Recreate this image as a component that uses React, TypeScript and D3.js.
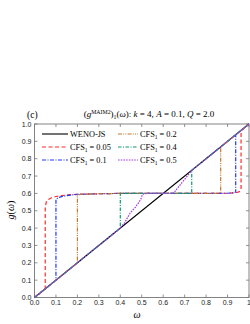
import React from "react";
import * as d3 from "d3";

type Pt = [number, number];

const xTicks = [0, 0.1, 0.2, 0.3, 0.4, 0.5, 0.6, 0.7, 0.8, 0.9, 1.0];
const xTickLabels = ["0.0", "0.1", "0.2", "0.3", "0.4", "0.5", "0.6", "0.7", "0.8", "0.9", "1"];
const yTicks = [0, 0.1, 0.2, 0.3, 0.4, 0.5, 0.6, 0.7, 0.8, 0.9, 1.0];
const yTickLabels = ["0.0", "0.1", "0.2", "0.3", "0.4", "0.5", "0.6", "0.7", "0.8", "0.9", "1.0"];

const wenoJS: Pt[] = [[0, 0], [1, 1]];
const cfs005: Pt[] = [
  [0, 0], [0.05, 0.05], [0.05, 0.52], [0.055, 0.55], [0.065, 0.565], [0.08, 0.575],
  [0.1, 0.582], [0.15, 0.591], [0.2, 0.595], [0.3, 0.598], [0.4, 0.6], [0.6, 0.6],
  [0.8, 0.6], [0.9, 0.601], [0.94, 0.604], [0.955, 0.61], [0.963, 0.625], [0.963, 0.963], [1, 1],
];
const cfs01: Pt[] = [
  [0, 0], [0.1, 0.1], [0.1, 0.565], [0.11, 0.575], [0.13, 0.583], [0.16, 0.589],
  [0.2, 0.594], [0.3, 0.598], [0.4, 0.6], [0.8, 0.6], [0.9, 0.601], [0.925, 0.603],
  [0.938, 0.608], [0.938, 0.938], [1, 1],
];
const cfs02: Pt[] = [
  [0, 0], [0.2, 0.2], [0.2, 0.592], [0.22, 0.595], [0.3, 0.598], [0.4, 0.6],
  [0.8, 0.6], [0.85, 0.601], [0.868, 0.603], [0.868, 0.868], [1, 1],
];
const cfs04: Pt[] = [
  [0, 0], [0.4, 0.4], [0.4, 0.6], [0.733, 0.6], [0.733, 0.733], [1, 1],
];
const cfs05: Pt[] = [
  [0, 0], [0.395, 0.395], [0.42, 0.43], [0.445, 0.485], [0.47, 0.52], [0.485, 0.545],
  [0.497, 0.57], [0.502, 0.59], [0.51, 0.598], [0.53, 0.6], [0.645, 0.6], [0.655, 0.612],
  [0.735, 0.735], [1, 1],
];

const seriesNames = ["WENO-JS", "0.05", "0.1", "0.2", "0.4", "0.5"];
const seriesData = [wenoJS, cfs005, cfs01, cfs02, cfs04, cfs05];
const seriesColors = ["#000000", "#ff2b2b", "#2236ff", "#c07830", "#0b9a6c", "#a43ce8"];
const seriesDash = ["none", "4 2.5", "4 1.5 1 1.5", "4 1.2 1 1.2 1 1.2", "3.5 1.5 1 1.5", "1.6 1.1"];
const seriesWidth = [1.1, 1.2, 1.2, 1.2, 1.2, 1.2];

const W = 250, H = 324;
const left = 34.5, right = 249, top = 124, bottom = 297.5;

export default function App() {
  const x = d3.scaleLinear().domain([0, 1]).range([left, right]);
  const y = d3.scaleLinear().domain([0, 1]).range([bottom, top]);
  const line = d3.line<Pt>().x((d) => x(d[0])).y((d) => y(d[1]));

  const legendPos = [
    { lx: 42, ly: 134 }, { lx: 42, ly: 147 }, { lx: 42, ly: 160 },
    { lx: 118, ly: 134 }, { lx: 118, ly: 147 }, { lx: 118, ly: 160 },
  ];
  const legendOrder = [0, 1, 2, 3, 4, 5];
  const lineLen = [26, 26, 26, 20, 20, 20];

  return (
    <svg width={W} height={H} style={{ position: "absolute", left: 0, top: 0, background: "#fff" }}
      fontFamily="'Liberation Serif', serif">
      <defs>
        <clipPath id="plotclip">
          <rect x={left} y={top - 1} width={right - left} height={bottom - top + 2} />
        </clipPath>
      </defs>
      <rect x={left} y={top} width={right - left} height={bottom - top} fill="none" stroke="#777" strokeWidth={0.9} />
      {xTicks.map((t, i) => (
        <g key={"xt" + i}>
          <line x1={x(t)} x2={x(t)} y1={bottom} y2={bottom - 3} stroke="#777" strokeWidth={0.8} />
          <line x1={x(t)} x2={x(t)} y1={top} y2={top + 3} stroke="#777" strokeWidth={0.8} />
          <text x={x(t)} y={305} fontSize={7} textAnchor="middle" fontFamily="'Liberation Sans', sans-serif" fill="#222">
            {xTickLabels[i]}
          </text>
        </g>
      ))}
      {yTicks.map((t, i) => (
        <g key={"yt" + i}>
          <line x1={left} x2={left + 3} y1={y(t)} y2={y(t)} stroke="#777" strokeWidth={0.8} />
          <line x1={right} x2={right - 3} y1={y(t)} y2={y(t)} stroke="#777" strokeWidth={0.8} />
          <text x={31.5} y={y(t) + 2.5} fontSize={7} textAnchor="end" fontFamily="'Liberation Sans', sans-serif" fill="#222">
            {yTickLabels[i]}
          </text>
        </g>
      ))}
      <g clipPath="url(#plotclip)">
        {seriesData.map((d, i) => (
          <path key={"s" + i} d={line(d) || ""} fill="none" stroke={seriesColors[i]}
            strokeWidth={seriesWidth[i]} strokeDasharray={seriesDash[i]} />
        ))}
      </g>
      {legendOrder.map((si, k) => {
        const p = legendPos[k];
        const tx = p.lx + lineLen[k] + 2;
        return (
          <g key={"lg" + k}>
            <line x1={p.lx} x2={p.lx + lineLen[k]} y1={p.ly} y2={p.ly} stroke={seriesColors[si]}
              strokeWidth={seriesWidth[si]} strokeDasharray={seriesDash[si]} />
            {si === 0 ? (
              <text x={tx} y={p.ly + 2.8} fontSize={8.3}>WENO-JS</text>
            ) : (
              <text x={tx} y={p.ly + 2.8} fontSize={8.3}>
                CFS<tspan fontSize={5.5} dy={2}>1</tspan><tspan dy={-2}> = {seriesNames[si]}</tspan>
              </text>
            )}
          </g>
        );
      })}
      <text x={27} y={117.5} fontSize={9.5}>(c)</text>
      <text x={149} y={117} fontSize={9} textAnchor="middle">
        (<tspan fontStyle="italic">g</tspan><tspan fontSize={5.8} dy={-3.5}>MAIM2</tspan><tspan dy={3.5}>)</tspan>
        <tspan fontSize={5.8} dy={2}>1</tspan><tspan dy={-2}>(</tspan><tspan fontStyle="italic">ω</tspan>): <tspan fontStyle="italic">k</tspan> = 4, <tspan fontStyle="italic">A</tspan> = 0.1, <tspan fontStyle="italic">Q</tspan> = 2.0
      </text>
      <text x={137} y={318} fontSize={10} fontStyle="italic" textAnchor="middle">ω</text>
      <text transform="translate(14,210) rotate(-90)" fontSize={10} textAnchor="middle">
        <tspan fontStyle="italic">g</tspan>(<tspan fontStyle="italic">ω</tspan>)
      </text>
    </svg>
  );
}
